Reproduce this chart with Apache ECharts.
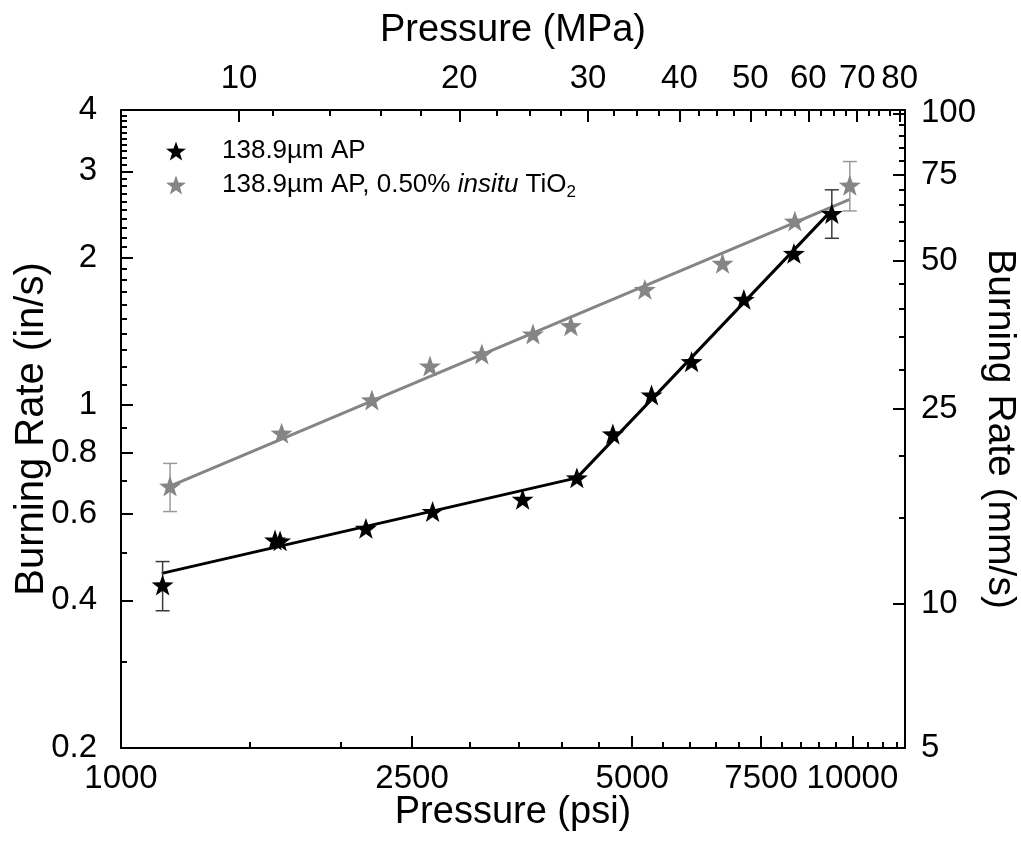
<!DOCTYPE html>
<html><head><meta charset="utf-8">
<script src="https://cdn.jsdelivr.net/npm/echarts@6/dist/echarts.min.js"></script>
<style>html,body{margin:0;padding:0;background:#fff}#c{width:1021px;height:848px}</style>
</head><body><div id="c"></div>
<script>
const FONT = "'Liberation Sans', Arial, sans-serif";

// axis ranges
const psiRange = [1000, 11800];
const rateRange = [0.2, 4];
const MPA_PER_PSI = 0.00689476;
const MM_PER_IN = 25.4;

// tick labels / tick positions
const psiMajor = [1000, 2500, 5000, 7500, 10000];
const psiMinor = [1500, 2000, 3000, 3500, 4000, 4500, 5500, 6000, 6500, 7000, 8000, 8500, 9000, 9500, 10500, 11000, 11500];
const mpaMajor = [10, 20, 30, 40, 50, 60, 70, 80];
const mpaMinor = [11.1, 13.3, 15.6, 17.7, 22.5, 25, 27.5, 32.5, 35, 37.5, 42.5, 45, 47.5, 52.5, 55, 57.5, 62.5, 65, 67.5, 72.5, 75, 77.5];
const inMajor = [0.2, 0.4, 0.6, 0.8, 1, 2, 3, 4];
const inMinor = [0.3, 0.5, 0.7, 0.9, 1.1, 1.2, 1.3, 1.4, 1.5, 1.6, 1.7, 1.8, 1.9, 2.1, 2.2, 2.3, 2.4, 2.5, 2.6, 2.7, 2.8, 2.9, 3.1, 3.2, 3.3, 3.4, 3.5, 3.6, 3.7, 3.8, 3.9];
const mmMajor = [5, 10, 25, 50, 75, 100];
const mmMinor = [15, 20, 30, 35, 40, 45, 55, 60, 65, 70, 80, 85, 90, 95];

// series names
const nameAP = '138.9µm AP';
const nameTi = '138.9µm AP, 0.50% insitu TiO2';

// data: 138.9um AP
const apPsi  = [1140, 1624, 1650, 2162, 2667, 3541, 4200, 4704, 5313, 6027, 7105, 8318, 9372];
const apRate = [0.430, 0.531, 0.529, 0.561, 0.607, 0.643, 0.711, 0.874, 1.049, 1.227, 1.644, 2.04, 2.46];
// data: 138.9um AP + 0.5% insitu TiO2
const tiPsi  = [1167, 1658, 2203, 2645, 3114, 3658, 4122, 5203, 6644, 8343, 9918];
const tiRate = [0.684, 0.877, 1.025, 1.202, 1.272, 1.397, 1.453, 1.723, 1.947, 2.374, 2.81];

// error bars [psi, low, high]
const apErrPsi = [1140, 9372];
const apErrLow = [0.381, 2.19];
const apErrHigh = [0.480, 2.75];
const tiErrPsi = [1167, 9918];
const tiErrLow = [0.607, 2.49];
const tiErrHigh = [0.761, 3.14];

// fit lines (power-law segments)
const apFitPsi = [1137, 4200, 9372];
const apFitRate = [0.454, 0.711, 2.50];
const tiFitPsi = [1167, 9918];
const tiFitRate = [0.684, 2.63];

const BLACK = '#000000';
const GRAY = '#858585';
const STAR = 'path://M0,-10 L2.35,-3.24 L9.51,-3.09 L3.8,1.24 L5.88,8.09 L0,4 L-5.88,8.09 L-3.8,1.24 L-9.51,-3.09 L-2.35,-3.24 Z';

const zip = (a, b) => a.map((v, i) => [v, b[i]]);
const zip3 = (a, b, c) => a.map((v, i) => [v, b[i], c[i]]);

function makeAxes(pos, range, major, minor, fmt, name, nameGap, nameSize, labelMargin, extra) {
  const clamp = v => Math.min(Math.max(v, range[0]), range[1]);
  const common = {
    type: 'log', logBase: 10, min: range[0], max: range[1], position: pos,
    splitLine: { show: false }, minorTick: { show: false }, minorSplitLine: { show: false }
  };
  return [
    Object.assign({}, common, {
      name: name, nameLocation: 'middle', nameGap: nameGap, nameMoveOverlap: false,
      nameTextStyle: { fontFamily: FONT, fontSize: nameSize, color: '#000' },
      axisLine: { show: true, onZero: false, lineStyle: { color: '#000', width: 2 } },
      axisTick: { show: true, inside: true, length: 12, lineStyle: { color: '#000', width: 2 }, customValues: major.map(clamp) },
      axisLabel: { show: true, hideOverlap: false, showMinLabel: true, showMaxLabel: true,
        customValues: major.map(clamp), formatter: fmt, fontFamily: FONT, fontSize: 33, color: '#000', margin: labelMargin }
    }, extra || {}),
    Object.assign({}, common, {
      axisLine: { show: false, onZero: false },
      axisTick: { show: true, inside: true, length: 6, lineStyle: { color: '#000', width: 2 }, customValues: minor },
      axisLabel: { show: false }
    })
  ];
}

const fmtInt = v => String(Math.round(v));
const fmtRate = v => String(+(+v).toPrecision(2));

const xAxes = [].concat(
  makeAxes('bottom', psiRange, psiMajor, psiMinor, fmtInt, 'Pressure (psi)', 46, 38, 14),
  makeAxes('top', psiRange.map(v => v * MPA_PER_PSI), mpaMajor, mpaMinor, fmtInt, 'Pressure (MPa)', 60, 38, 15)
);
const yAxes = [].concat(
  makeAxes('left', rateRange, inMajor, inMinor, fmtRate, 'Burning Rate (in/s)', 69, 40, 24),
  makeAxes('right', rateRange.map(v => v * MM_PER_IN), mmMajor, mmMinor, fmtInt, 'Burning Rate (mm/s)', 75, 39, 16, { nameRotate: -90 })
);

function errRender(color) {
  return function (params, api) {
    const x = api.value(0);
    const p1 = api.coord([x, api.value(1)]);
    const p2 = api.coord([x, api.value(2)]);
    const w = 7;
    const st = { stroke: color, lineWidth: 1.5 };
    return {
      type: 'group',
      children: [
        { type: 'line', shape: { x1: p1[0], y1: p1[1], x2: p2[0], y2: p2[1] }, style: st },
        { type: 'line', shape: { x1: p1[0] - w, y1: p1[1], x2: p1[0] + w, y2: p1[1] }, style: st },
        { type: 'line', shape: { x1: p2[0] - w, y1: p2[1], x2: p2[0] + w, y2: p2[1] }, style: st }
      ]
    };
  };
}

const chart = echarts.init(document.getElementById('c'), null, { renderer: 'canvas' });
chart.setOption({
  backgroundColor: '#fff',
  animation: false,
  grid: { left: 121, right: 116, top: 110, bottom: 100, containLabel: false, outerBoundsMode: 'none' },
  xAxis: xAxes,
  yAxis: yAxes,
  legend: {
    left: 161, top: 133, orient: 'vertical', itemGap: 8,
    itemWidth: 20, itemHeight: 20, symbolKeepAspect: true,
    textStyle: {
      fontFamily: FONT, fontSize: 26, color: '#000', padding: [0, 0, 0, 31],
      rich: {
        n: { fontFamily: FONT, fontSize: 26, color: '#000' },
        it: { fontFamily: FONT, fontSize: 26, color: '#000', fontStyle: 'italic' },
        sub: { fontFamily: FONT, fontSize: 17, color: '#000', padding: [14, 0, 0, 0] }
      }
    },
    formatter: function (name) {
      if (name === nameTi) return '{n|138.9µm AP, 0.50% }{it|insitu}{n| TiO}{sub|2}';
      return '{n|' + name + '}';
    },
    data: [
      { name: nameAP, icon: STAR, itemStyle: { color: BLACK, opacity: 1 } },
      { name: nameTi, icon: STAR, itemStyle: { color: GRAY, opacity: 1 } }
    ]
  },
  series: [
    { name: 'fitAP', type: 'line', xAxisIndex: 0, yAxisIndex: 0, data: zip(apFitPsi, apFitRate), symbol: 'none',
      lineStyle: { color: BLACK, width: 3 }, z: 2 },
    { name: 'fitTi', type: 'line', xAxisIndex: 0, yAxisIndex: 0, data: zip(tiFitPsi, tiFitRate), symbol: 'none',
      lineStyle: { color: GRAY, width: 3 }, z: 2 },
    { name: 'errAP', type: 'custom', xAxisIndex: 0, yAxisIndex: 0, renderItem: errRender('#3a3a3a'),
      data: zip3(apErrPsi, apErrLow, apErrHigh), z: 3 },
    { name: 'errTi', type: 'custom', xAxisIndex: 0, yAxisIndex: 0, renderItem: errRender('#9a9a9a'),
      data: zip3(tiErrPsi, tiErrLow, tiErrHigh), z: 3 },
    { name: nameTi, type: 'scatter', xAxisIndex: 0, yAxisIndex: 0, data: zip(tiPsi, tiRate), symbol: STAR, symbolSize: 22,
      symbolKeepAspect: true, itemStyle: { color: GRAY, opacity: 1 }, z: 4 },
    { name: nameAP, type: 'scatter', xAxisIndex: 0, yAxisIndex: 0, data: zip(apPsi, apRate), symbol: STAR, symbolSize: 22,
      symbolKeepAspect: true, itemStyle: { color: BLACK, opacity: 1 }, z: 5 }
  ]
});
</script>
</body></html>
